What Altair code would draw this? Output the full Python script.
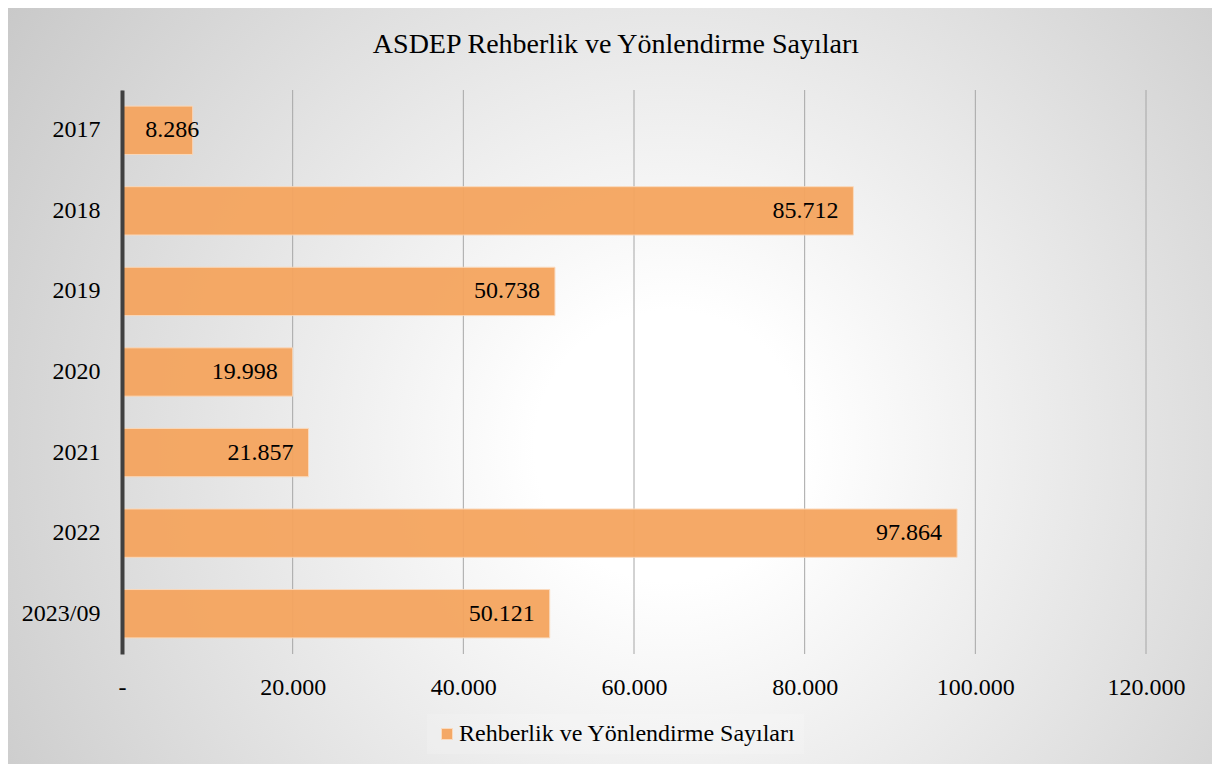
import altair as alt
import pandas as pd

years = ["2017", "2018", "2019", "2020", "2021", "2022", "2023/09"]
values = [8286, 85712, 50738, 19998, 21857, 97864, 50121]
series_name = "Rehberlik ve Yönlendirme Sayıları"
title_text = "ASDEP Rehberlik ve Yönlendirme Sayıları"
x_ticks = [0, 20000, 40000, 60000, 80000, 100000, 120000]

df = pd.DataFrame({"year": years, "value": values, "series": series_name})
ticks_df = pd.DataFrame({"t": x_ticks})

W, H = 1024, 564
FONT = "Liberation Serif"
BAR = "#F5A55F"
FS = 24

xscale = alt.Scale(domain=[0, 120000], nice=False, zero=True)
yscale = alt.Scale(domain=years, paddingInner=0.4, paddingOuter=0.2)

gradient = {
    "gradient": "radial",
    "x1": 0.55, "y1": 0.55, "r1": 0.0,
    "x2": 0.55, "y2": 0.55, "r2": 0.75,
    "stops": [
        {"offset": 0.0, "color": "#ffffff"},
        {"offset": 0.15, "color": "#ffffff"},
        {"offset": 1.0, "color": "#c0c0c0"},
    ],
}

one = pd.DataFrame({"a": [0]})

bg = alt.Chart(one).mark_rect(fill=gradient, strokeWidth=0).encode(
    x=alt.value(-114), x2=alt.value(W + 66),
    y=alt.value(-82), y2=alt.value(H + 110),
)

title = alt.Chart(one).mark_text(
    text=title_text, font=FONT, fontSize=28, color="#000000",
    align="center", baseline="alphabetic",
).encode(x=alt.value(494), y=alt.value(-37))

xaxis = alt.Axis(values=x_ticks, grid=False, domain=False, ticks=False,
                 labelExpr="datum.value == 0 ? '-' : format(datum.value, ',d')",
                 labelFont=FONT, labelFontSize=FS, labelColor="#000000",
                 labelPadding=21, labelFlush=False, labelOverlap=False,
                 title=None, zindex=1)

grid = alt.Chart(ticks_df).mark_rule(color="#a6a6a6", strokeWidth=1).encode(
    x=alt.X("t:Q", scale=xscale, axis=xaxis),
    y=alt.value(0), y2=alt.value(H),
)

bars = alt.Chart(df).mark_bar(stroke="#fbd9bb", strokeWidth=1, opacity=0.95).encode(
    x=alt.X("value:Q", scale=xscale, axis=xaxis),
    y=alt.Y("year:N", scale=yscale, sort=years,
            axis=alt.Axis(domain=True, domainColor="#404040", domainWidth=4,
                          ticks=False, grid=False, labelFont=FONT, labelFontSize=FS,
                          labelColor="#000000", labelPadding=22, title=None, zindex=1)),
    color=alt.Color("series:N", scale=alt.Scale(range=[BAR]),
                    legend=alt.Legend(title=None, orient="none", legendX=305, legendY=624,
                                      symbolType="square", symbolSize=121,
                                      symbolStrokeColor="#fbd9bb", symbolStrokeWidth=1,
                                      labelOffset=0,
                                      labelFont=FONT, labelFontSize=FS, labelColor="#000000",
                                      labelLimit=600, padding=8,
                                      fillColor="rgba(255,255,255,0.15)")),
)

labels = alt.Chart(df).transform_calculate(
    pos="max(datum.value, 10800)"
).mark_text(align="right", baseline="middle", dx=-15, font=FONT, fontSize=FS, color="#000000").encode(
    x=alt.X("pos:Q", scale=xscale, axis=xaxis),
    y=alt.Y("year:N", scale=yscale, sort=years),
    text=alt.Text("value:Q", format=",d"),
)

chart = alt.layer(bg, grid, bars, labels, title).properties(
    width=W, height=H, padding=0,
).configure(
    locale={"number": {"decimal": ",", "thousands": ".", "grouping": [3], "currency": ["", ""]}}
).configure_view(stroke=None)

chart.save("out.html", embed_options={"renderer": "svg", "actions": False})
